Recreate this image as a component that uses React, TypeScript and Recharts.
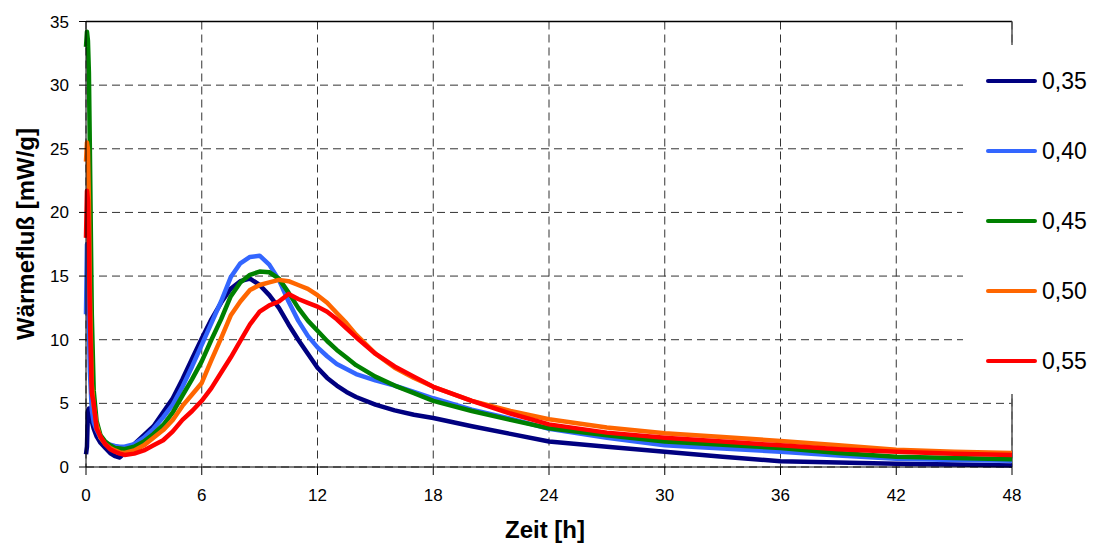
import {
  CartesianGrid,
  Label,
  Legend,
  Line,
  LineChart,
  ReferenceLine,
  XAxis,
  YAxis,
} from "recharts";

// Zeit [h]
const hours = [
  0, 0.05, 0.1, 0.15, 0.2, 0.3, 0.4, 0.55, 0.75, 1,
  1.25, 1.5, 1.75, 2, 2.5, 3, 3.5, 4, 4.5, 5,
  5.5, 6, 6.5, 7, 7.5, 8, 8.5, 9, 9.5, 10,
  10.5, 11, 11.5, 12, 12.5, 13, 13.5, 14, 15, 16,
  17, 18, 20, 22, 24, 27, 30, 33, 36, 39,
  42, 45, 48,
];

// Wärmefluß [mW/g] per w/z ratio
const flow035 = [
  1.0, 1.6, 4.4, 4.6, 4.2, 3.6, 3.0, 2.4, 1.9, 1.5,
  1.1, 0.85, 0.75, 1.1, 1.8, 2.5, 3.2, 4.3, 5.4, 6.9,
  8.5, 10.1, 11.6, 12.9, 14.0, 14.6, 14.8, 14.3, 13.5, 12.5,
  11.2, 10.0, 8.9, 7.8, 7.0, 6.4, 5.9, 5.5, 4.9, 4.45,
  4.1, 3.85, 3.2, 2.6, 2.0, 1.6, 1.2, 0.8, 0.45, 0.35,
  0.25, 0.2, 0.12,
];
const flow040 = [
  12, 17.5, 15, 11, 7.5, 4.5, 3.5, 2.9, 2.3, 1.9,
  1.75, 1.65, 1.6, 1.6, 1.8, 2.3, 3.0, 3.9, 4.9, 6.3,
  7.9, 9.6, 11.3, 13.0, 14.9, 16.0, 16.5, 16.6, 15.9, 14.7,
  13.0, 11.5, 10.3, 9.4, 8.7, 8.1, 7.7, 7.3, 6.8, 6.4,
  5.9, 5.4, 4.5, 3.8, 3.0, 2.3, 1.7, 1.45, 1.2, 0.9,
  0.65, 0.55, 0.5,
];
const flow045 = [
  33, 34.2, 33.5, 31, 25, 12, 6, 3.6, 2.5, 2.0,
  1.7, 1.5, 1.45, 1.4, 1.6, 2.0, 2.6, 3.3, 4.3, 5.6,
  6.9, 8.3, 10.0, 11.6, 13.4, 14.5, 15.1, 15.35, 15.3, 14.8,
  13.7, 12.5, 11.5, 10.7, 9.9, 9.2, 8.6, 8.0, 7.1, 6.4,
  5.8, 5.2, 4.4, 3.7, 3.05, 2.5, 2.0, 1.75, 1.5, 1.1,
  0.8, 0.7, 0.6,
];
const flow050 = [
  24, 25.5, 25, 21, 14, 6.5, 4.8, 3.3, 2.3, 1.8,
  1.5, 1.3, 1.15, 1.1, 1.3, 1.7, 2.3, 2.9, 3.7, 4.8,
  5.7, 6.6, 8.4, 10.1, 11.9, 13.0, 13.9, 14.3, 14.5, 14.7,
  14.6, 14.3, 14.0, 13.5, 12.9, 12.1, 11.3, 10.4, 8.9, 7.8,
  7.0, 6.3, 5.2, 4.4, 3.75, 3.1, 2.65, 2.35, 2.05, 1.7,
  1.35, 1.2, 1.1,
];
const flow055 = [
  18, 21.7, 21, 17, 12, 5.8, 5.0, 3.0, 2.4, 1.8,
  1.4, 1.2, 1.05, 0.95, 1.05, 1.3, 1.7, 2.1, 2.8, 3.7,
  4.4, 5.2, 6.2, 7.4, 8.6, 9.9, 11.2, 12.2, 12.7, 13.0,
  13.6, 13.2, 12.9, 12.6, 12.2, 11.6, 10.9, 10.2, 8.9, 7.9,
  7.1, 6.3, 5.2, 4.2, 3.35, 2.7, 2.3, 2.0, 1.7, 1.4,
  1.2, 1.05, 0.95,
];

const seriesNames = ["0,35", "0,40", "0,45", "0,50", "0,55"];
const seriesColors = ["#000080", "#3366ff", "#008000", "#ff6600", "#ff0000"];
const seriesValues = [flow035, flow040, flow045, flow050, flow055];

const xTicks = [0, 6, 12, 18, 24, 30, 36, 42, 48];
const yTicks = [0, 5, 10, 15, 20, 25, 30, 35];

const data = hours.map((h, i) => {
  const row: Record<string, number> = { hours: h };
  seriesValues.forEach((vals, s) => {
    row["s" + s] = vals[i];
  });
  return row;
});

function LegendBox({ payload }: any) {
  return (
    <div style={{ background: "#fff", width: 132, height: 349, position: "relative" }}>
      {(payload || []).map((p: any, i: number) => (
        <div
          key={p.value}
          style={{
            position: "absolute",
            left: 23,
            top: 36 + i * 70 - 15,
            height: 30,
            display: "flex",
            alignItems: "center",
          }}
        >
          <span style={{ display: "inline-block", width: 51, height: 4, background: p.color, borderRadius: 2 }} />
          <span style={{ marginLeft: 5, fontSize: 23, color: "#000" }}>{p.value}</span>
        </div>
      ))}
    </div>
  );
}

export default function App() {
  return (
    <div style={{ fontFamily: "'Liberation Sans', Arial, sans-serif", background: "#fff" }}>
      <style>{"body{margin:0}"}</style>
      <LineChart
        width={1095}
        height={544}
        data={data}
        margin={{ top: 21.5, right: 83, bottom: 47, left: 0 }}
      >
        <CartesianGrid stroke="#333" strokeDasharray="8 5" />
        <XAxis
          dataKey="hours"
          type="number"
          domain={[0, 48]}
          ticks={xTicks}
          height={30}
          stroke="#000"
          tickSize={8}
          tickMargin={14}
          tick={{ fill: "#000", fontSize: 17 }}
        >
          <Label
            content={() => (
              <text x={545} y={529} textAnchor="middle" dominantBaseline="central" fontWeight="bold" fontSize={24} fill="#000">
                Zeit [h]
              </text>
            )}
          />
        </XAxis>
        <YAxis
          type="number"
          domain={[0, 35]}
          ticks={yTicks}
          width={86}
          stroke="#000"
          tickSize={7}
          tickMargin={10}
          tick={{ fill: "#000", fontSize: 17 }}
        >
          <Label
            content={() => (
              <text
                x={25}
                y={234}
                transform="rotate(-90 25 234)"
                textAnchor="middle"
                dominantBaseline="central"
                fontWeight="bold"
                fontSize={24}
                fill="#000"
              >
                Wärmefluß [mW/g]
              </text>
            )}
          />
        </YAxis>
        <ReferenceLine y={35} stroke="#000" strokeWidth={1.5} />
        <ReferenceLine x={48} stroke="#555" strokeWidth={1.5} />
        {seriesValues.map((_, s) => (
          <Line
            key={s}
            type="linear"
            dataKey={"s" + s}
            name={seriesNames[s]}
            stroke={seriesColors[s]}
            strokeWidth={4.5}
            strokeLinejoin="round"
            dot={false}
            isAnimationActive={false}
          />
        ))}
        <Legend
          layout="horizontal"
          verticalAlign="middle"
          align="center"
          content={LegendBox}
          wrapperStyle={{ left: 963, top: 45, width: 132, height: 349 }}
        />
      </LineChart>
    </div>
  );
}
